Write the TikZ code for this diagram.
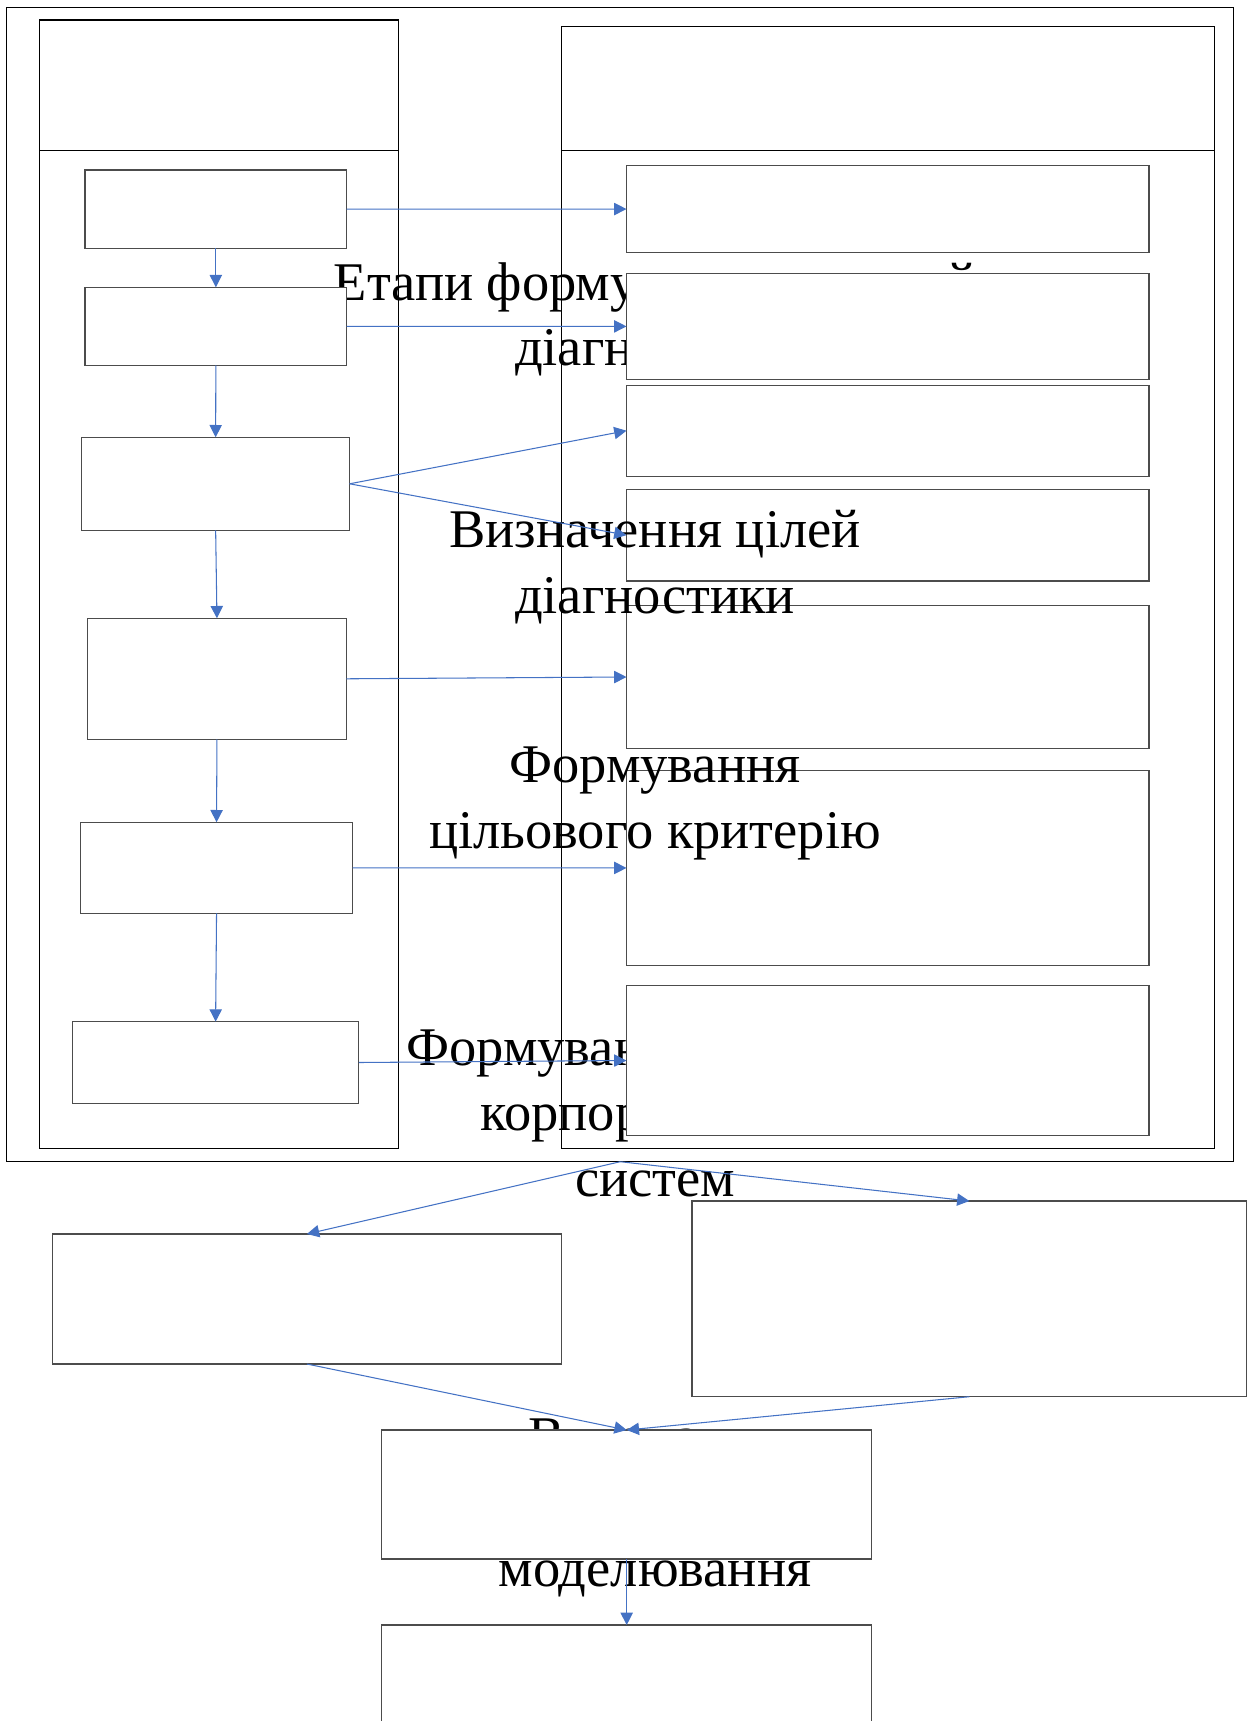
\documentclass[tikz,border=0pt]{standalone}
\usepackage{fontspec}
\setmainfont{Liberation Serif}
\usepackage{tikz}
\usetikzlibrary{arrows.meta, positioning}
\definecolor{arrblue}{RGB}{68,114,196}

\begin{document}
\begin{tikzpicture}[
            box/.style={draw=black!70, fill=white, line width=0.6pt, rectangle, inner sep=0pt, outer sep=0pt},
            colbox/.style={draw=black, line width=0.6pt, rectangle, inner sep=0pt, outer sep=0pt},
            txt/.style={align=center, inner sep=0pt, anchor=base, font=\fontsize{31}{37.4}\selectfont},
            arr/.style={-{Triangle[length=7pt, width=7pt]}, draw=arrblue, line width=0.6pt}]
            \useasboundingbox (0,0) rectangle (25.06,-34.42);

            \node[colbox, minimum width=24.544cm, minimum height=23.088cm] (frame) at (12.406,-11.69) {};
            \node[colbox, minimum width=7.18cm, minimum height=2.606cm] (lefthead) at (4.376,-1.703) {};
            \node[colbox, minimum width=7.18cm, minimum height=19.96cm, below=0pt of lefthead] (leftcol) {};
            \node[colbox, minimum width=13.054cm, minimum height=2.48cm] (righthead) at (17.759,-1.766) {};
            \node[colbox, minimum width=13.054cm, minimum height=19.96cm, below=0pt of righthead] (rightcol) {};

            \node[txt] (title) at (13.1,-7.32) {Етапи формування моделей\\діагностики};
            \node[txt] (forms) at (13.1,-23.934) {Формування моделей\\корпоративних\\систем};
            \node[txt] (model) at (13.1,-31.72) {Виконання\\імітаційного\\моделювання};

            \node[box, minimum width=5.234cm, minimum height=1.566cm] (l1) at (4.317,-4.183) {};
            \node[box, minimum width=5.234cm, minimum height=1.562cm] (l2) at (4.317,-6.527) {};
            \node[box, minimum width=5.358cm, minimum height=1.86cm] (l3) at (4.313,-9.676) {};
            \node[box, minimum width=5.178cm, minimum height=2.42cm] (l4) at (4.339,-13.576) {};
            \node[box, minimum width=5.446cm, minimum height=1.82cm] (l5) at (4.331,-17.356) {};
            \node[box, minimum width=5.732cm, minimum height=1.632cm] (l6) at (4.312,-21.25) {};

            \node[box, minimum width=10.45cm, minimum height=1.734cm] (r1) at (17.755,-4.181) {};
            \node[box, minimum width=10.45cm, minimum height=2.128cm] (r2) at (17.755,-6.528) {};
            \node[box, minimum width=10.45cm, minimum height=1.824cm] (r3) at (17.755,-8.614) {};
            \node[box, minimum width=10.45cm, minimum height=1.834cm] (r4) at (17.755,-10.703) {};
            \node[box, minimum width=10.45cm, minimum height=2.852cm] (r5) at (17.755,-13.54) {};
            \node[box, minimum width=10.45cm, minimum height=3.91cm] (r6) at (17.755,-17.359) {};
            \node[box, minimum width=10.45cm, minimum height=2.992cm] (r7) at (17.755,-21.21) {};

            \node[box, minimum width=10.188cm, minimum height=2.6cm] (b1) at (6.138,-25.98) {};
            \node[box, minimum width=11.096cm, minimum height=3.914cm] (b2) at (19.388,-25.977) {};
            \node[box, minimum width=9.796cm, minimum height=2.58cm] (b3) at (12.534,-29.89) {};
            \node[box, minimum width=9.796cm, minimum height=2.6cm] (b4) at (12.534,-33.8) {};

            \node[txt] (goals) at (13.1,-12.266) {Визначення цілей\\діагностики};
            \node[txt] (crit) at (13.1,-16.966) {Формування\\цільового критерію};

            \draw[arr] (l1.south) -- (l2.north);
            \draw[arr] (l2.south) -- (l3.north);
            \draw[arr] (l3.south) -- (l4.north);
            \draw[arr] (l4.south) -- (l5.north);
            \draw[arr] (l5.south) -- (l6.north);
            \draw[arr] (l1.east) -- (r1.west);
            \draw[arr] (l2.east) -- (r2.west);
            \draw[arr] (l3.east) -- (r3.west);
            \draw[arr] (l3.east) -- (r4.west);
            \draw[arr] (l4.east) -- (r5.west);
            \draw[arr] (l5.east) -- (r6.west);
            \draw[arr] (l6.east) -- (r7.west);
            \draw[arr] (frame.south) -- (b1.north);
            \draw[arr] (frame.south) -- (b2.north);
            \draw[arr] (b1.south) -- (b3.north);
            \draw[arr] (b2.south) -- (b3.north);
            \draw[arr] (b3.south) -- (b4.north);
        \end{tikzpicture}
\end{document}
